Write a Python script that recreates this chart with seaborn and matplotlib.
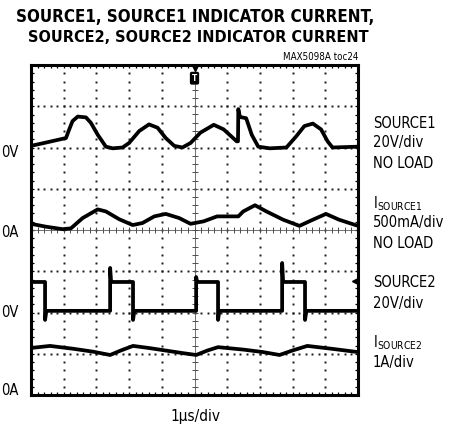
import numpy as np
import matplotlib
matplotlib.use('Agg')
import matplotlib.pyplot as plt
import seaborn as sns
from matplotlib import font_manager
from matplotlib.ticker import MultipleLocator

# 波形資料 (單位: 格, x 0~10, y 0~8)，由示波器截圖讀取
src1_t = [0, 0.46, 1.07, 1.15, 1.27, 1.43, 1.68, 1.83, 2.04, 2.29, 2.5, 2.8, 3.0, 3.31, 3.61,
          3.87, 4.12, 4.38, 4.63, 4.88, 5.18, 5.59, 5.89, 6.29, 6.33, 6.34, 6.39, 6.58, 6.75,
          6.95, 7.3, 7.81, 8.11, 8.36, 8.62, 8.87, 9.07, 9.22, 10]
src1_v = [6.04, 6.12, 6.23, 6.4, 6.64, 6.75, 6.73, 6.6, 6.31, 6.02, 5.98, 6.0, 6.11, 6.4, 6.56,
          6.48, 6.23, 6.04, 6.0, 6.11, 6.36, 6.55, 6.44, 6.15, 6.15, 6.93, 6.74, 6.71, 6.31,
          6.02, 5.98, 6.0, 6.27, 6.52, 6.58, 6.44, 6.15, 6.0, 6.02]

isrc1_t = [0, 0.46, 0.97, 1.22, 1.58, 2.04, 2.29, 2.7, 3.11, 3.41, 3.77, 4.12, 4.53, 4.88,
           5.28, 5.69, 6.34, 6.49, 6.85, 7.2, 7.71, 8.21, 8.62, 9.02, 9.42, 10]
isrc1_v = [4.15, 4.08, 4.02, 4.04, 4.29, 4.5, 4.45, 4.26, 4.12, 4.17, 4.33, 4.39, 4.29, 4.15,
           4.21, 4.33, 4.33, 4.45, 4.6, 4.45, 4.25, 4.1, 4.25, 4.39, 4.25, 4.1]

src2_t = [0, 0.43, 0.43, 0.47, 2.42, 2.42, 2.45, 3.12, 3.12, 3.16, 5.05, 5.05, 5.08,
          5.72, 5.72, 5.76, 7.68, 7.68, 7.71, 8.38, 8.38, 8.42, 10]
src2_v = [2.74, 2.74, 1.82, 2.04, 2.04, 3.08, 2.74, 2.74, 1.82, 2.04, 2.04, 2.86, 2.74,
          2.74, 1.82, 2.04, 2.04, 3.2, 2.74, 2.74, 1.82, 2.04, 2.04]

isrc2_t = [0, 0.58, 1.3, 1.9, 2.42, 2.75, 3.12, 3.6, 4.1, 4.6, 5.05, 5.4, 5.72, 6.5, 7.1,
           7.6, 8.0, 8.45, 9.2, 10]
isrc2_v = [1.14, 1.19, 1.12, 1.05, 0.97, 1.08, 1.19, 1.14, 1.08, 1.02, 0.97, 1.08, 1.16, 1.10, 1.04,
           0.97, 1.08, 1.19, 1.12, 1.04]

# 通道標籤
ground_labels = ['0V', '0A', '0V', '0A']
ground_levels = [5.89, 3.95, 1.99, 0.1]
channel_labels = ['SOURCE1', '20V/div', 'NO LOAD',
                  r'$\mathregular{I_{SOURCE1}}$', '500mA/div', 'NO LOAD',
                  'SOURCE2', '20V/div',
                  r'$\mathregular{I_{SOURCE2}}$', '1A/div']
channel_label_y = [6.59, 6.11, 5.62, 4.65, 4.17, 3.68, 2.72, 2.23, 1.26, 0.80]
title_lines = ['SOURCE1, SOURCE1 INDICATOR CURRENT,', 'SOURCE2, SOURCE2 INDICATOR CURRENT']

sns.set_style('white')

# 找窄體字型，沒有就用 Liberation Sans
fam, stretch = 'Liberation Sans', 'normal'
for f in font_manager.fontManager.ttflist:
    if 'Narrow' in f.name or 'Condensed' in f.name or f.stretch in ('condensed', 'semi-condensed'):
        if 'Mono' not in f.name and 'Serif' not in f.name:
            fam, stretch = f.name, 'condensed'
            break
plt.rcParams['font.family'] = [fam, 'DejaVu Sans']
plt.rcParams['font.stretch'] = stretch
plt.rcParams['text.color'] = 'black'

fig = plt.figure(figsize=(4.54, 4.32), dpi=100)
ax = fig.add_axes([31 / 454, 1 - 395 / 432, 327 / 454, 330 / 432])
ax.set_xlim(0, 10)
ax.set_ylim(0, 8)

# 格線 (點狀)
sub = np.arange(0, 10.01, 0.2)
subv = np.arange(0, 8.01, 0.2)
for gx in range(1, 10):
    if gx != 5:
        ax.plot(np.full_like(subv, gx), subv, ls='none', marker='s', ms=1.4, mew=0,
                color='0.1', zorder=1)
for gy in range(1, 8):
    if gy != 4:
        ax.plot(sub, np.full_like(sub, gy), ls='none', marker='s', ms=1.4, mew=0,
                color='0.1', zorder=1)
# 中央十字軸
ax.axhline(4, color='0.35', lw=0.6, zorder=1)
ax.axvline(5, color='0.35', lw=0.6, zorder=1)
ax.plot(sub, np.full_like(sub, 4), ls='none', marker='|', ms=4, mew=0.7, color='0.3', zorder=1)
ax.plot(np.full_like(subv, 5), subv, ls='none', marker='_', ms=4, mew=0.7, color='0.3', zorder=1)

# 波形
for t, v in [(src1_t, src1_v), (isrc1_t, isrc1_v), (src2_t, src2_v), (isrc2_t, isrc2_v)]:
    sns.lineplot(x=t, y=v, ax=ax, color='black', lw=2.7, sort=False, estimator=None, zorder=3)

# 觸發標記
ax.plot(5, 7.93, marker='v', ms=5, color='black', clip_on=False, zorder=4)
ax.text(5, 7.68, 'T', ha='center', va='center', color='white', fontsize=6, fontweight='bold',
        family='DejaVu Sans',
        bbox=dict(boxstyle='round,pad=0.15', fc='black', ec='black'), zorder=4)
ax.plot(9.91, 2.77, marker='<', ms=5, color='black', zorder=4)

# 外框與刻度
for s in ax.spines.values():
    s.set_linewidth(2.2)
    s.set_color('black')
ax.xaxis.set_major_locator(MultipleLocator(1))
ax.yaxis.set_major_locator(MultipleLocator(1))
ax.xaxis.set_minor_locator(MultipleLocator(0.2))
ax.yaxis.set_minor_locator(MultipleLocator(0.2))
ax.tick_params(which='both', direction='in', length=2.5, width=0.9, color='black', top=True,
               right=True, bottom=True, left=True, labelbottom=False, labelleft=False)

for lab, y in zip(ground_labels, ground_levels):
    ax.text(-30 / 327, y, lab, ha='left', va='center', fontsize=10.5,
            transform=ax.get_yaxis_transform(), clip_on=False)
for lab, y in zip(channel_labels, channel_label_y):
    ax.text(1.046, y, lab, ha='left', va='center', fontsize=10.5,
            transform=ax.get_yaxis_transform(), clip_on=False)

t1 = fig.text(195 / 454, 1 - 17 / 432, title_lines[0], ha='center', va='center',
              fontsize=15, fontweight='bold')
t2 = fig.text(198 / 454, 1 - 37 / 432, title_lines[1], ha='center', va='center',
              fontsize=15, fontweight='bold')
fig.text(358 / 454, 1 - 57 / 432, 'MAX5098A toc24', ha='right', va='center', fontsize=7)
fig.text(195 / 454, 1 - 416 / 432, '1μs/div', ha='center', va='center', fontsize=11)

# 依參考圖寬度調整標題字級
fig.canvas.draw()
r = fig.canvas.get_renderer()
for t, w in [(t1, 360), (t2, 340)]:
    t.set_fontsize(t.get_fontsize() * w / t.get_window_extent(r).width)

fig.savefig('out.png', dpi=100)
plt.close(fig)
